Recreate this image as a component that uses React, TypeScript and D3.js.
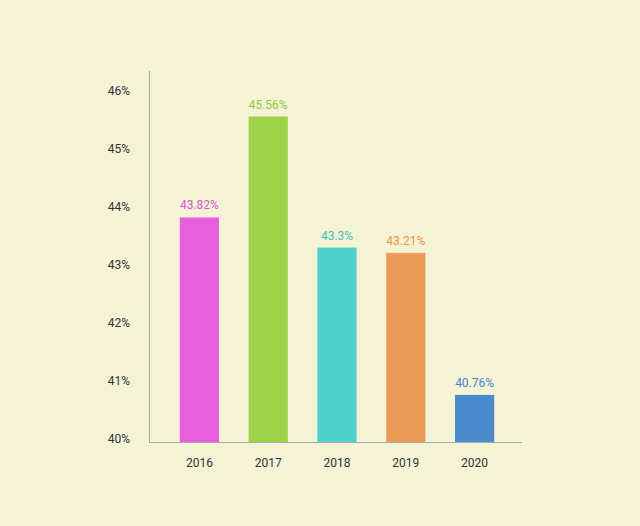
import React from "react";
import * as d3 from "d3";

const years = ["2016", "2017", "2018", "2019", "2020"];
const values = [43.82, 45.56, 43.3, 43.21, 40.76];
const colors = ["#e660dc", "#9ed24b", "#4dd2cc", "#ec9a58", "#4a8bcd"];
const labelColors = ["#e052d6", "#92c843", "#3fc2bc", "#e98f4c", "#4283cb"];
const yTicks = [40, 41, 42, 43, 44, 45, 46];

const W = 640;
const H = 526;
const axisX = 149;
const axisY = 442;
const axisTop = 71;
const axisRight = 522;

export default function App() {
  const x = d3.scaleBand<string>().domain(years).range([165, 509]).paddingInner(0.43).paddingOuter(0.215);
  const y = d3.scaleLinear().domain([40, 46]).range([439, 91]);
  const font = "Roboto, 'Noto Sans', sans-serif";
  return (
    <svg width={W} height={H} style={{ position: "absolute", left: 0, top: 0, display: "block" }}>
      <rect x={0} y={0} width={W} height={H} fill="#f4f3d5" />
      <line x1={axisX + 0.5} x2={axisX + 0.5} y1={axisTop} y2={axisY} stroke="#a8a8a8" strokeWidth={1} />
      <line x1={axisX} x2={axisRight} y1={axisY + 0.5} y2={axisY + 0.5} stroke="#a8a8a8" strokeWidth={1} />
      {yTicks.map((t) => (
        <text key={t} x={130} y={y(t)} dy="0.35em" textAnchor="end" fontFamily={font} fontSize={12} fill="#333">
          {t}%
        </text>
      ))}
      {years.map((yr, i) => {
        const bx = x(yr)!;
        const bw = x.bandwidth();
        const top = y(values[i]);
        return (
          <g key={yr}>
            <rect x={bx} y={top} width={bw} height={axisY - top} fill={colors[i]} />
            <text x={bx + bw / 2} y={top - 8} textAnchor="middle" fontFamily={font} fontSize={12} fill={labelColors[i]}>
              {values[i]}%
            </text>
            <text x={bx + bw / 2} y={463} dy="0.35em" textAnchor="middle" fontFamily={font} fontSize={12} fill="#333">
              {yr}
            </text>
          </g>
        );
      })}
    </svg>
  );
}
